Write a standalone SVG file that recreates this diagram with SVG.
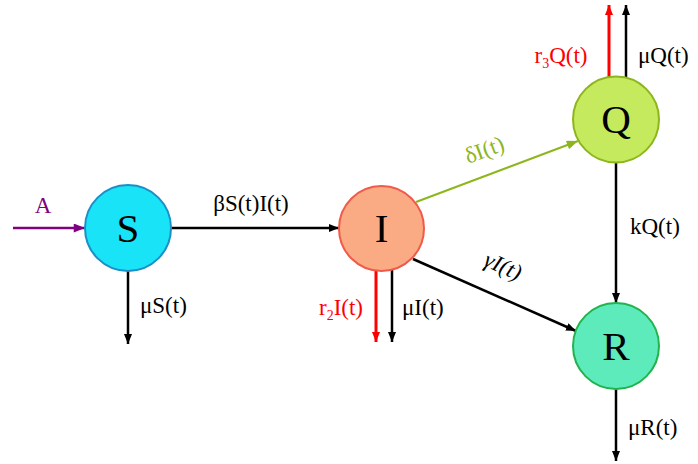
<svg xmlns="http://www.w3.org/2000/svg" width="698" height="464" viewBox="0 0 698 464">
<defs>
<marker id="ab" viewBox="0 0 10 8" refX="10" refY="4" markerWidth="10" markerHeight="8" markerUnits="userSpaceOnUse" orient="auto"><path d="M0,0 L10,4 L0,8 Z" fill="#000"/></marker>
<marker id="ar" viewBox="0 0 10 8" refX="10" refY="4" markerWidth="10" markerHeight="8" markerUnits="userSpaceOnUse" orient="auto"><path d="M0,0 L10,4 L0,8 Z" fill="#ff0000"/></marker>
<marker id="ag" viewBox="0 0 10 8" refX="10" refY="4" markerWidth="12" markerHeight="9" markerUnits="userSpaceOnUse" orient="auto"><path d="M0,0 L10,4 L0,8 Z" fill="#8db61d"/></marker>
<marker id="ap" viewBox="0 0 10 8" refX="10" refY="4" markerWidth="12" markerHeight="9" markerUnits="userSpaceOnUse" orient="auto"><path d="M0,0 L10,4 L0,8 Z" fill="#800080"/></marker>
</defs>
<style>
text{font-family:"Liberation Serif","DejaVu Serif",serif;}
.lbl{font-size:23px;fill:#000;}
.node{font-size:41px;fill:#000;text-anchor:middle;}
.k{stroke:#000;stroke-width:2.5;fill:none;marker-end:url(#ab);}
.r{stroke:#ff0000;stroke-width:3;fill:none;marker-end:url(#ar);}
</style>
<rect width="698" height="464" fill="#fff"/>
<g id="connectors">
<line x1="13" y1="228" x2="85" y2="228" stroke="#800080" stroke-width="2.5" marker-end="url(#ap)"/>
<line class="k" x1="171" y1="228" x2="339" y2="228"/>
<line class="k" x1="128" y1="271" x2="128" y2="344"/>
<line class="r" x1="376" y1="270" x2="376" y2="342"/>
<line class="k" x1="392" y1="270" x2="392" y2="342"/>
<line x1="416" y1="202" x2="578" y2="141" stroke="#8db61d" stroke-width="2" marker-end="url(#ag)"/>
<line class="k" x1="413" y1="259" x2="576" y2="331"/>
<line class="r" x1="609" y1="77" x2="609" y2="5"/>
<line class="k" x1="626" y1="77" x2="626" y2="5"/>
<line class="k" x1="616" y1="163" x2="616" y2="303"/>
<line class="k" x1="616" y1="389" x2="616" y2="461"/>
<text x="43" y="213" font-size="23" fill="#800080" text-anchor="middle">A</text>
<text class="lbl" x="251" y="211" text-anchor="middle">βS(t)I(t)</text>
<text class="lbl" x="140" y="313">μS(t)</text>
<text x="341" y="315" font-size="23" fill="#ff0000" text-anchor="middle">r<tspan font-size="14" dy="5">2</tspan><tspan dy="-5">I(t)</tspan></text>
<text class="lbl" x="402" y="315">μI(t)</text>
<text x="487" y="157" font-size="23" fill="#8db61d" text-anchor="middle" transform="rotate(-20.6 487 157)">δI(t)</text>
<text class="lbl" x="500" y="273" text-anchor="middle" font-style="italic" transform="rotate(24 500 273)">γI(t)</text>
<text x="561" y="63" font-size="23" fill="#ff0000" text-anchor="middle">r<tspan font-size="14" dy="5">3</tspan><tspan dy="-5">Q(t)</tspan></text>
<text class="lbl" x="638" y="63">μQ(t)</text>
<text class="lbl" x="630" y="234">kQ(t)</text>
<text class="lbl" x="628" y="435">μR(t)</text>
</g>
<g id="S"><circle cx="128" cy="228" r="43" fill="#19e3f7" stroke="#1b8fc6" stroke-width="2"/><text class="node" x="128" y="242">S</text></g>
<g id="I"><circle cx="381.5" cy="228.5" r="42.5" fill="#fbab83" stroke="#f05a4a" stroke-width="2"/><text class="node" x="381.5" y="242">I</text></g>
<g id="Q"><circle cx="616" cy="119.5" r="43" fill="#c6ea5e" stroke="#8db61d" stroke-width="2"/><text class="node" x="616" y="133">Q</text></g>
<g id="R"><circle cx="616" cy="346" r="43" fill="#5debbc" stroke="#22b34e" stroke-width="2"/><text class="node" x="616" y="360">R</text></g>
</svg>
